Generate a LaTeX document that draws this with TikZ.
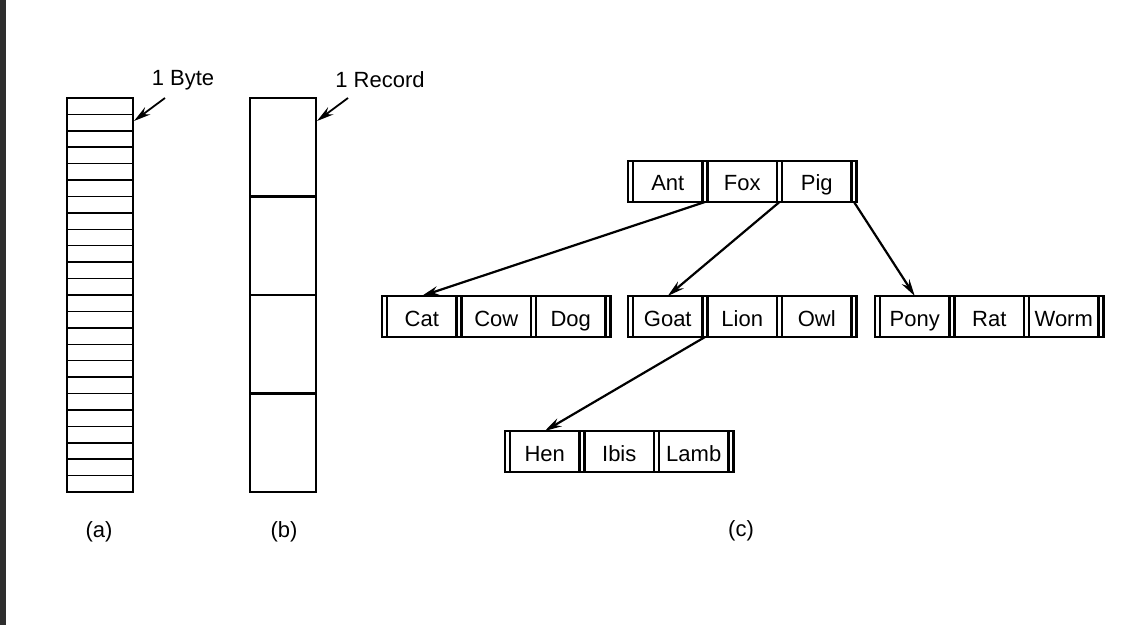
\documentclass[tikz,border=0pt]{standalone}
\usepackage{fontspec}
\setmainfont{Liberation Sans}
\usetikzlibrary{arrows.meta,positioning}

\tikzset{
  key/.style={draw, line width=1.2pt, rectangle, minimum width=34.75pt, minimum height=20.5pt,
    inner sep=0pt, outer sep=0pt, text height=9.5pt, text depth=0pt, font=\fontsize{11}{13}\selectfont},
  slot/.style={draw, line width=1.2pt, rectangle, minimum width=2.5pt, minimum height=20.5pt,
    inner sep=0pt, outer sep=0pt},
  ptr/.style={line width=1.1pt, -{Stealth[length=8.5pt, width=4.5pt]}},
  lbl/.style={font=\fontsize{11}{13}\selectfont}
}

% one block: name, left, top, three keys
\newcommand{\bblock}[6]{%
  \node[slot, anchor=north west] (#1-p0) at (#2,#3) {};
  \node[key, right=0pt of #1-p0] (#4) {#4};
  \node[slot, right=0pt of #4] (#1-p1) {};
  \node[key, right=0pt of #1-p1] (#5) {#5};
  \node[slot, right=0pt of #5] (#1-p2) {};
  \node[key, right=0pt of #1-p2] (#6) {#6};
  \node[slot, right=0pt of #6] (#1-p3) {};
}

\begin{document}
\begin{tikzpicture}[x=0.5pt, y=-0.5pt]
	\useasboundingbox (0,0) rectangle (1138,625);
	\fill[black!82] (0,0) rectangle (6,625);

	% (a) bytes
	\draw[line width=1.3pt] (67,98) rectangle (133,492);
	\foreach \i in {1,...,23}
		\draw[line width=0.75pt] (67,{98+\i*394/24}) -- (133,{98+\i*394/24});
	\node[lbl] (byte) at (183,80) {1 Byte};
	\coordinate (bytetail) at (165,98);
	\coordinate (bytecell) at (134,121);
	\draw[ptr, line width=0.9pt] (bytetail) -- (bytecell);
	\node[lbl] (capa) at (99,532) {(a)};

	% (b) records
	\draw[line width=1.3pt] (250,98) rectangle (316,492);
	\foreach \i in {1,2,3}
		\draw[line width=1.1pt] (250,{98+\i*98.5}) -- (316,{98+\i*98.5});
	\node[lbl] (record) at (380,80) {1 Record};
	\coordinate (rectail) at (348,98);
	\coordinate (reccell) at (317,121);
	\draw[ptr, line width=0.9pt] (rectail) -- (reccell);
	\node[lbl] (capb) at (284,532) {(b)};

	% (c) tree
	\bblock{root}{628}{161}{Ant}{Fox}{Pig}
	\bblock{left}{382}{296}{Cat}{Cow}{Dog}
	\bblock{mid}{628}{296}{Goat}{Lion}{Owl}
	\bblock{right}{875}{296}{Pony}{Rat}{Worm}
	\bblock{low}{505}{431}{Hen}{Ibis}{Lamb}

	\draw[ptr] (root-p1.south) -- (Cat.north);
	\draw[ptr] (root-p2.south) -- (Goat.north);
	\draw[ptr] (root-p3.south) -- (Pony.north);
	\draw[ptr] (mid-p1.south) -- (Hen.north);

	\node[lbl] (capc) at (741,531) {(c)};
\end{tikzpicture}
\end{document}
